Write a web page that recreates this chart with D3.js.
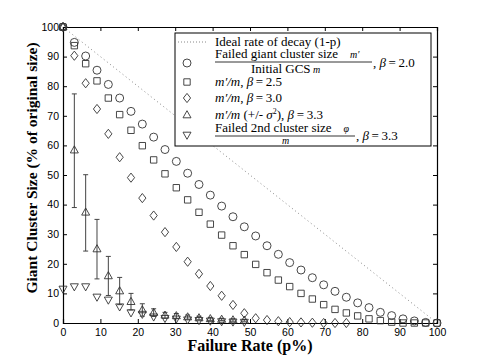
<!DOCTYPE html>
<meta charset="utf-8">
<script src="https://d3js.org/d3.v7.min.js"></script>
<style>
  body { margin: 0; background: #fff; }
  text { fill: #000; }
</style>
<svg id="chart" width="485" height="364"></svg>
<script>
// failure rate p (%), 34 sample points
const failRate = [0, 3.03, 6.06, 9.09, 12.12, 15.15, 18.18, 21.21, 24.24, 27.27, 30.30, 33.33,
  36.36, 39.39, 42.42, 45.45, 48.48, 51.52, 54.55, 57.58, 60.61, 63.64, 66.67, 69.70, 72.73,
  75.76, 78.79, 81.82, 84.85, 87.88, 90.91, 93.94, 96.97, 100];

// beta = 2.0 (circles)
const beta20 = [100, 94.8, 90.2, 85.4, 80.6, 76, 71.5, 67.2, 62.8, 58.6, 54.6, 50.6, 46.8, 43.2,
  39.5, 35.9, 32.5, 29.4, 26.1, 23.2, 20.4, 17.9, 15.3, 12.9, 10.7, 8.7, 6.8, 5.2, 3.6, 2.5,
  1.4, 0.7, 0.2, 0];
// beta = 2.5 (squares)
const beta25 = [100, 93.7, 87.6, 81.8, 76, 70.4, 65.1, 59.9, 55.1, 50.4, 45.7, 41.6, 37.4, 33.4,
  29.7, 26.1, 23.1, 19.8, 17, 14.5, 12.3, 10, 8.1, 6.2, 4.6, 3.4, 2.4, 1.4, 0.8, 0.3, 0, 0, 0, 0];
// beta = 3.0 (diamonds), up to p = 75.76
const beta30 = [100, 90.3, 81, 72.3, 63.9, 56, 49.1, 42.2, 36.3, 30.7, 25.7, 20.7, 16.6, 12.5,
  9.2, 6.1, 3.3, 1.6, 1, 0.6, 0.3, 0.2, 0.1, 0, 0, 0];
// beta = 3.3 mean with +/- sigma^2 (triangles), up to p = 48.48
const beta33 = [100, 58.4, 37.4, 25, 15.9, 10.8, 7.2, 4.4, 3.5, 2.6, 2.4, 2.0, 1.7, 1.4, 1.2, 1.0, 0.9];
const beta33Hi = [100, 77.4, 50.1, 35, 22.5, 15.4, 10, 6.5, 4.8, 3.6, 3.2, 2.7, 2.3, 1.9, 1.6, 1.4, 1.2];
const beta33Lo = [100, 39, 24.3, 14.9, 9.3, 6.2, 4.4, 2.3, 2.2, 1.6, 1.6, 1.3, 1.1, 0.9, 0.8, 0.6, 0.6];
// beta = 3.3 second cluster (down triangles)
const second33 = [11.5, 12.3, 12.3, 8.8, 7.8, 5.5, 3.5, 3.0, 2.1, 1.6, 1.4, 1.1, 0.9, 0.7, 0.5, 0.4, 0.3];

const ticks = [0, 10, 20, 30, 40, 50, 60, 70, 80, 90, 100];

const svg = d3.select("#chart");
const x = d3.scaleLinear().domain([0, 100]).range([63, 437]);
const y = d3.scaleLinear().domain([0, 100]).range([323, 27]);

const ink = "#333";

// marker shapes
const shapes = {
  circle: "M4,0A4,4 0 1,1 -4,0A4,4 0 1,1 4,0Z",
  square: "M-3.2,-3.2H3.2V3.2H-3.2Z",
  diamond: "M0,-4.6L3.6,0L0,4.6L-3.6,0Z",
  up: "M0,-4.3L4,2.8H-4Z",
  down: "M0,4.3L4,-2.8H-4Z"
};

// ideal decay line
svg.append("line")
  .attr("x1", x(0)).attr("y1", y(100))
  .attr("x2", x(100)).attr("y2", y(0))
  .attr("stroke", "#888").attr("stroke-width", 1)
  .attr("stroke-dasharray", "1,3");

// axes: bottom / left with labels, top / right without
const fontAxis = "'Liberation Sans', Arial, sans-serif";
svg.append("g")
  .attr("transform", `translate(0,${y(0)})`)
  .call(d3.axisBottom(x).tickValues(ticks).tickSize(-4).tickPadding(6))
  .call(g => g.selectAll("text").attr("font-family", fontAxis).attr("font-size", 10.5).attr("fill", "#222"));
svg.append("g")
  .attr("transform", `translate(${x(0)},0)`)
  .call(d3.axisLeft(y).tickValues(ticks).tickSize(-4).tickPadding(4))
  .call(g => g.selectAll("text").attr("font-family", fontAxis).attr("font-size", 10.5).attr("fill", "#222"));
svg.append("g")
  .attr("transform", `translate(0,${y(100)})`)
  .call(d3.axisTop(x).tickValues(ticks).tickSize(-4).tickFormat(""));
svg.append("g")
  .attr("transform", `translate(${x(100)},0)`)
  .call(d3.axisRight(y).tickValues(ticks).tickSize(-4).tickFormat(""));
svg.selectAll(".domain").attr("stroke", "#000").attr("stroke-width", 1.2);

// error bars for beta 3.3
const errG = svg.append("g").attr("stroke", "#444").attr("stroke-width", 1);
beta33.forEach((v, i) => {
  if (i === 0) return;
  const cx = x(failRate[i]);
  errG.append("line").attr("x1", cx).attr("x2", cx).attr("y1", y(beta33Hi[i])).attr("y2", y(beta33Lo[i]));
  errG.append("line").attr("x1", cx - 2.5).attr("x2", cx + 2.5).attr("y1", y(beta33Hi[i])).attr("y2", y(beta33Hi[i]));
  errG.append("line").attr("x1", cx - 2.5).attr("x2", cx + 2.5).attr("y1", y(beta33Lo[i])).attr("y2", y(beta33Lo[i]));
});

function drawSeries(vals, shape) {
  svg.append("g").selectAll("path")
    .data(vals)
    .join("path")
    .attr("transform", (d, i) => `translate(${x(failRate[i])},${y(d)})`)
    .attr("d", shapes[shape])
    .attr("fill", "none")
    .attr("stroke", ink)
    .attr("stroke-width", 0.9);
}
drawSeries(beta20, "circle");
drawSeries(beta25, "square");
drawSeries(beta30, "diamond");
drawSeries(second33, "down");
drawSeries(beta33, "up");

// axis titles
const fontTitle = "'Liberation Serif', 'Times New Roman', serif";
svg.append("text")
  .attr("x", 250).attr("y", 351)
  .attr("text-anchor", "middle")
  .attr("font-family", fontTitle).attr("font-weight", "bold").attr("font-size", 16)
  .text("Failure Rate (p%)");
svg.append("text")
  .attr("transform", "translate(37,168) rotate(-90)")
  .attr("text-anchor", "middle")
  .attr("font-family", fontTitle).attr("font-weight", "bold").attr("font-size", 15.5)
  .text("Giant Cluster Size (% of original size)");

// legend
const lg = svg.append("g");
lg.append("rect")
  .attr("x", 175).attr("y", 33).attr("width", 256).attr("height", 113)
  .attr("fill", "#fff").attr("stroke", "#000").attr("stroke-width", 1);

const fs = 13;
function lt(xp, yp, parts, size, anchor) {
  const t = lg.append("text")
    .attr("x", xp).attr("y", yp)
    .attr("font-family", fontTitle).attr("font-size", size || fs)
    .attr("text-anchor", anchor || "start");
  parts.forEach(p => {
    const s = t.append("tspan").text(p[0]);
    if (p[1]) s.attr("font-style", "italic");
    if (p[2]) s.attr("font-size", p[2]);
    if (p[3]) s.attr("dy", p[3]);
  });
  return t;
}

const mx = 187;
// row 1: ideal line
lg.append("line").attr("x1", 178).attr("x2", 208).attr("y1", 42).attr("y2", 42)
  .attr("stroke", "#888").attr("stroke-dasharray", "1,2");
lt(215, 46, [["Ideal rate of decay (1-p)"]]);

// row 2: fraction
lg.append("path").attr("transform", `translate(${mx},63)`).attr("d", shapes.circle)
  .attr("fill", "none").attr("stroke", ink).attr("stroke-width", 0.9);
lt(215, 58, [["Failed giant cluster size"], ["\u2003\u2009m\u2032", true, 10]]);
lg.append("line").attr("x1", 215).attr("x2", 372).attr("y1", 62).attr("y2", 62).attr("stroke", "#000").attr("stroke-width", 0.8);
lt(251, 73, [["Initial GCS"], [" m", true, 10]]);
lt(373, 67, [[", "], ["\u03b2", true], ["\u2009=\u20092.0"]]);

// rows 3-5
lg.append("path").attr("transform", `translate(${mx},82)`).attr("d", shapes.square)
  .attr("fill", "none").attr("stroke", ink).attr("stroke-width", 0.9);
lt(215, 86, [["m\u2032/m", true], [", "], ["\u03b2", true], ["\u2009=\u20092.5"]]);
lg.append("path").attr("transform", `translate(${mx},98)`).attr("d", shapes.diamond)
  .attr("fill", "none").attr("stroke", ink).attr("stroke-width", 0.9);
lt(215, 102, [["m\u2032/m", true], [", "], ["\u03b2", true], ["\u2009=\u20093.0"]]);
lg.append("path").attr("transform", `translate(${mx},115)`).attr("d", shapes.up)
  .attr("fill", "none").attr("stroke", ink).attr("stroke-width", 0.9);
lt(215, 119, [["m\u2032/m", true], [" (+/- "], ["\u03c3", true], ["2", false, 8, -5], ["), ", false, null, 5], ["\u03b2", true], ["\u2009=\u20093.3"]]);

// row 6: fraction
lg.append("path").attr("transform", `translate(${mx},135)`).attr("d", shapes.down)
  .attr("fill", "none").attr("stroke", ink).attr("stroke-width", 0.9);
lt(215, 132, [["Failed 2nd cluster size"], ["\u2003\u2009\u03c6", true, 10]]);
lg.append("line").attr("x1", 215).attr("x2", 355).attr("y1", 136).attr("y2", 136).attr("stroke", "#000").attr("stroke-width", 0.8);
lt(282, 144, [["m", true, 10]]);
lt(356, 140, [[", "], ["\u03b2", true], ["\u2009=\u20093.3"]]);
</script>
